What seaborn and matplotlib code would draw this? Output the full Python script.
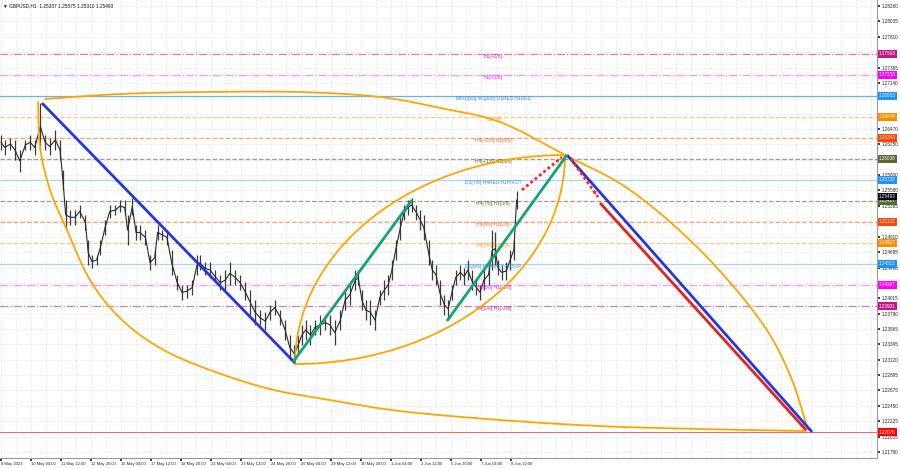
import numpy as np
import pandas as pd
import matplotlib
matplotlib.use("Agg")
import matplotlib.pyplot as plt
import seaborn as sns
from matplotlib.transforms import blended_transform_factory

sns.set_theme(style="white")
plt.rcParams['font.family'] = ['Liberation Sans', 'DejaVu Sans']

# ---------------- data ----------------
bars = [0, 4, 10, 15, 20, 26, 31, 36, 42, 47, 52, 58, 63, 66, 69, 74, 79, 84, 90, 93,
        97, 102, 106, 111, 116, 122, 127, 132, 135, 140, 144, 148, 154, 159, 164, 167, 172, 177, 182, 188,
        193, 198, 204, 209, 212, 218, 223, 228, 234, 239, 244, 250, 255, 260, 266, 271, 276, 282, 287, 292,
        298, 303, 308, 313, 317, 321, 325, 330, 335, 340, 346, 351, 356, 362, 367, 372, 378, 381, 385, 389,
        394, 399, 404, 409, 413, 417, 421, 426, 430, 434, 438, 443, 447, 451, 456, 460, 464, 468, 473, 477,
        481, 485, 490, 494, 498, 502, 507, 511, 515, 520, 524, 527, 530, 534, 539, 543, 547, 550]
highs = [1.2639, 1.2631, 1.2634, 1.2631, 1.2617, 1.2631, 1.2639, 1.2631, 1.2685, 1.2639, 1.2634, 1.2646, 1.2631, 1.2588, 1.2544, 1.2530, 1.2530, 1.2537, 1.2522, 1.2486,
         1.2464, 1.2464, 1.2486, 1.2515, 1.2537, 1.2537, 1.2544, 1.2544, 1.2522, 1.2547, 1.2508, 1.2508, 1.2501, 1.2464, 1.2471, 1.2508, 1.2501, 1.2501, 1.2471, 1.2435,
         1.2421, 1.2421, 1.2428, 1.2464, 1.2464, 1.2454, 1.2454, 1.2442, 1.2435, 1.2442, 1.2454, 1.2442, 1.2435, 1.2425, 1.2413, 1.2399, 1.2384, 1.2381, 1.2392, 1.2399,
         1.2384, 1.2370, 1.2348, 1.2334, 1.2348, 1.2363, 1.2370, 1.2363, 1.2370, 1.2377, 1.2377, 1.2377, 1.2370, 1.2384, 1.2413, 1.2421, 1.2442, 1.2442, 1.2413, 1.2399,
         1.2399, 1.2384, 1.2413, 1.2428, 1.2435, 1.2457, 1.2486, 1.2522, 1.2537, 1.2544, 1.2547, 1.2537, 1.2530, 1.2522, 1.2486, 1.2457, 1.2450, 1.2428, 1.2406, 1.2399,
         1.2421, 1.2442, 1.2450, 1.2445, 1.2457, 1.2442, 1.2428, 1.2421, 1.2442, 1.2450, 1.2500, 1.2497, 1.2457, 1.2450, 1.2454, 1.2471, 1.2486, 1.25575]
lows = [1.2617, 1.2610, 1.2617, 1.2602, 1.2585, 1.2617, 1.2617, 1.2610, 1.2617, 1.2617, 1.2610, 1.2617, 1.2602, 1.2559, 1.2501, 1.2508, 1.2508, 1.2518, 1.2501, 1.2450,
        1.2445, 1.2450, 1.2464, 1.2493, 1.2518, 1.2522, 1.2527, 1.2522, 1.2479, 1.2522, 1.2486, 1.2486, 1.2479, 1.2442, 1.2450, 1.2486, 1.2486, 1.2479, 1.2435, 1.2413,
        1.2399, 1.2402, 1.2406, 1.2435, 1.2442, 1.2435, 1.2431, 1.2425, 1.2413, 1.2413, 1.2421, 1.2421, 1.2413, 1.2399, 1.2377, 1.2363, 1.2363, 1.2355, 1.2370, 1.2377,
        1.2363, 1.2341, 1.2312, 1.2307, 1.2319, 1.2333, 1.2341, 1.2333, 1.2348, 1.2348, 1.2355, 1.2348, 1.2333, 1.2355, 1.2384, 1.2392, 1.2413, 1.2421, 1.2384, 1.2370,
        1.2363, 1.2355, 1.2392, 1.2399, 1.2406, 1.2428, 1.2457, 1.2486, 1.2515, 1.2522, 1.2527, 1.2515, 1.2501, 1.2486, 1.2450, 1.2428, 1.2421, 1.2392, 1.2377, 1.2373,
        1.2399, 1.2421, 1.2428, 1.2421, 1.2428, 1.2413, 1.2406, 1.2399, 1.2413, 1.2421, 1.2442, 1.2450, 1.2435, 1.2428, 1.2428, 1.2442, 1.2457, 1.25310]

title_text = "GBPUSD,H1  1.25337 1.25575 1.25310 1.25493"
current_price = 1.25493
target_price = 1.22070

x_tick_bars = list(range(0, 545, 32))
x_tick_labels = ["8 May 2023", "10 May 04:00", "11 May 12:00", "12 May 20:00", "16 May 04:00",
                 "17 May 12:00", "18 May 20:00", "22 May 04:00", "23 May 12:00", "24 May 20:00",
                 "26 May 04:00", "29 May 12:00", "30 May 20:00", "1 Jun 04:00", "2 Jun 12:00",
                 "5 Jun 20:00", "7 Jun 04:00", "8 Jun 12:00"]
y_ticks = [1.28260, 1.28035, 1.27810, 1.27590, 1.27365, 1.27140, 1.26915, 1.26695, 1.26470, 1.26250,
           1.26025, 1.25800, 1.25580, 1.25355, 1.25130, 1.24910, 1.24685, 1.24460, 1.24235, 1.24015,
           1.23790, 1.23565, 1.23345, 1.23120, 1.22895, 1.22675, 1.22450, 1.22225, 1.22005, 1.21780]

level_prices = [1.27563, 1.27258, 1.26953, 1.26648, 1.26343, 1.26038, 1.25732,
                1.25427, 1.25122, 1.24817, 1.24512, 1.24207, 1.23901]
level_texts = ["H1[+2/8]", "H1[+1/8]", "MN1[6/8] W1[6/8] D1RES H1RES", "H1[7/8]",
               "H4[+2/8] H1[6/8]", "H4[+1/8] H1[5/8]", "D1[7/8] H4RES H1PIVOT",
               "H4[7/8] H1[3/8]", "H4[6/8] H1[2/8]", "H4[5/8] H1[1/8]",
               "D1[6/8] H4PIVOT H1SUP", "H4[3/8] H1[-1/8]", "H4[2/8] H1[-2/8]"]

# drawing objects (bar index, price)
blue_line_1 = [(43.7, 1.26850), (313.6, 1.23073)]
green_line_1 = [(311.5, 1.23088), (438.4, 1.25441)]
green_line_2 = [(475.7, 1.23683), (603.7, 1.26095)]
blue_line_2 = [(603.7, 1.26095), (865.1, 1.22071)]
red_dotted_1 = [(555.7, 1.25587), (598.4, 1.26066)]
red_dotted_2 = [(608.0, 1.26037), (636.8, 1.25485)]
red_line = [(639.0, 1.25398), (858.7, 1.22100)]
small_arc_ends = [(313.6, 1.23058), (601.6, 1.26095)]
top_arc = [(46.9, 1.26909), (126.9, 1.26981), (212.3, 1.27010), (318.9, 1.27010), (404.3, 1.26938),
           (468.3, 1.26778), (532.3, 1.26574), (601.6, 1.26095), (670.9, 1.25587), (745.6, 1.24715),
           (809.6, 1.23698), (841.6, 1.22899), (860.8, 1.22100)]
bottom_arc = [(39.5, 1.26865), (41.6, 1.26211), (52.3, 1.25587), (70.4, 1.25005), (94.9, 1.24279),
              (126.9, 1.23727), (169.6, 1.23291), (222.9, 1.22971), (286.9, 1.22695), (350.9, 1.22535),
              (425.6, 1.22375), (532.3, 1.22245), (639.0, 1.22157), (745.6, 1.22114), (858.7, 1.22085)]

# ---------------- styles ----------------
level_line_colors = ["#d27cc0", "#ff8cff", "#6aaeff", "#ffc48a", "#ffa07a", "#9aa27e", "#a8d4ff",
                     "#9aa27e", "#ffa07a", "#ffc48a", "#a8d4ff", "#ff8cff", "#d27cc0"]
level_styles = ["dashdot", "dashdot", "solid", "dashed", "dashed", "dashed", "solid",
                "dashed", "dashed", "dashed", "solid", "dashdot", "dashdot"]
level_text_colors = ["#c0309a", "#e020e0", "#2f8ff0", "#f5a030", "#f06a3a", "#5d6b3a", "#2f8ff0",
                     "#5d6b3a", "#f06a3a", "#f5a030", "#2f8ff0", "#e020e0", "#c0309a"]
level_box_colors = ["#c71585", "#ff00ff", "#1e90ff", "#ff8c00", "#ff4500", "#556b2f", "#1e90ff",
                    "#556b2f", "#ff4500", "#ff8c00", "#1e90ff", "#ff00ff", "#c71585"]

fig = plt.figure(figsize=(9, 4.68), dpi=100)
ax = fig.add_axes([0.0, 10 / 468, 877 / 900, 458 / 468])
ax.set_facecolor("white")
ax.set_xlim(-1.07, 934.4)
ax.set_ylim(1.21693, 1.28347)

# grid
for gx in range(0, 935, 16):
    ax.axvline(gx, color="#e4e4e4", lw=0.6, ls=(0, (2, 2)), zorder=0)
for gy in y_ticks:
    ax.axhline(gy, color="#e4e4e4", lw=0.6, ls=(0, (2, 2)), zorder=0)

# levels
for p, c, s in zip(level_prices, level_line_colors, level_styles):
    ax.axhline(p, color=c, lw=0.9, ls=s, zorder=1)
ax.axhline(target_price, color="#ff6060", lw=0.7, zorder=1)

for p, t, c in zip(level_prices, level_texts, level_text_colors):
    ax.text(525, p - 0.00004, t, color=c, fontsize=3.6, ha="center", va="top", zorder=4)

# price series
df = pd.DataFrame({"bar": bars, "high": highs, "low": lows})
df["mid"] = (df["high"] + df["low"]) / 2
ax.vlines(df["bar"], df["low"], df["high"], color="#3c3c3c", lw=0.9, zorder=3)
sns.lineplot(data=df, x="bar", y="mid", color="#2a2a2a", lw=0.8, ax=ax, zorder=3)


def catmull(pts, n=30):
    p = np.array(pts, dtype=float)
    p = np.vstack([2 * p[0] - p[1], p, 2 * p[-1] - p[-2]])
    out = []
    for i in range(1, len(p) - 2):
        p0, p1, p2, p3 = p[i - 1], p[i], p[i + 1], p[i + 2]
        t = np.linspace(0, 1, n)[:, None]
        seg = 0.5 * ((2 * p1) + (-p0 + p2) * t + (2 * p0 - 5 * p1 + 4 * p2 - p3) * t ** 2
                     + (-p0 + 3 * p1 - 3 * p2 + p3) * t ** 3)
        out.append(seg)
    return np.vstack(out)


orange = "#ffa500"
for arc in (top_arc, bottom_arc):
    c = catmull(arc)
    ax.plot(c[:, 0], c[:, 1], color=orange, lw=1.3, zorder=5)

# small shape: two quarter-ellipse arcs between its two anchor points (display space)
d1 = ax.transData.transform(small_arc_ends[0])
d2 = ax.transData.transform(small_arc_ends[1])
aw = d2[0] - d1[0]
bh = d2[1] - d1[1]
tt = np.linspace(0, np.pi / 2, 120)
up = np.column_stack([d2[0] - aw * np.cos(tt), d1[1] + bh * np.sin(tt)])
lo = np.column_stack([d1[0] + aw * np.sin(tt), d2[1] - bh * np.cos(tt)])
for arc in (up, lo):
    dd = ax.transData.inverted().transform(arc)
    ax.plot(dd[:, 0], dd[:, 1], color=orange, lw=1.3, zorder=5)


def seg(line, **kw):
    (x0, y0), (x1, y1) = line
    ax.plot([x0, x1], [y0, y1], **kw)


seg(blue_line_1, color="#2436e0", lw=2, zorder=6, solid_capstyle="butt")
seg(blue_line_2, color="#2436e0", lw=2, zorder=6, solid_capstyle="butt")
seg(green_line_1, color="#13a374", lw=2, zorder=6, solid_capstyle="butt")
seg(green_line_2, color="#13a374", lw=2, zorder=6, solid_capstyle="butt")
seg(red_dotted_1, color="#ff2020", lw=2, ls=(0, (1, 1)), zorder=6)
seg(red_dotted_2, color="#ff2020", lw=2, ls=(0, (1, 1)), zorder=6)
ax.annotate("", xy=red_dotted_2[1], xytext=red_dotted_2[0],
            arrowprops=dict(arrowstyle="-|>", color="#ff2020", lw=0, mutation_scale=6), zorder=7)
seg(red_line, color="#e8201c", lw=2, zorder=6, solid_capstyle="butt")
ax.annotate("", xy=red_line[1], xytext=red_line[0],
            arrowprops=dict(arrowstyle="-|>", color="#e8201c", lw=0, mutation_scale=7), zorder=7)

# axes
box_prices = level_prices + [current_price, target_price]
box_colors = level_box_colors + ["#000000", "#ff0000"]
ax.yaxis.tick_right()
ax.set_yticks(y_ticks)
ax.set_yticklabels([("" if min(abs(v - b) for b in box_prices) < 0.0005 else f"{v:.5f}")
                    for v in y_ticks])
ax.set_xticks(x_tick_bars)
ax.set_xticklabels(x_tick_labels)
for lbl in ax.get_xticklabels():
    lbl.set_horizontalalignment("left")
ax.tick_params(axis="y", labelsize=3.3, length=2, pad=1.2, colors="#222222", right=True, left=False)
ax.tick_params(axis="x", labelsize=3.0, length=2, pad=0.8, colors="#222222", bottom=True)
ax.set_xlabel("")
ax.set_ylabel("")
for s in ["top", "left"]:
    ax.spines[s].set_visible(False)
for s in ["right", "bottom"]:
    ax.spines[s].set_color("#9a9a9a")
    ax.spines[s].set_linewidth(0.8)

# price boxes on the right
trans = blended_transform_factory(ax.transAxes, ax.transData)
for p, c in zip(box_prices, box_colors):
    ax.text(1.0 + 2 / 877, p, f"{p:.5f}", transform=trans, fontsize=3.3, color="white",
            ha="left", va="center", clip_on=False, zorder=10,
            bbox=dict(boxstyle="square,pad=0.3", fc=c, ec="none"))

ax.text(3 / 877, 1 - 6 / 458, "\u25bc " + title_text, transform=ax.transAxes, fontsize=3.4,
        color="#111111", ha="left", va="center")

fig.savefig("out.png", dpi=100)
